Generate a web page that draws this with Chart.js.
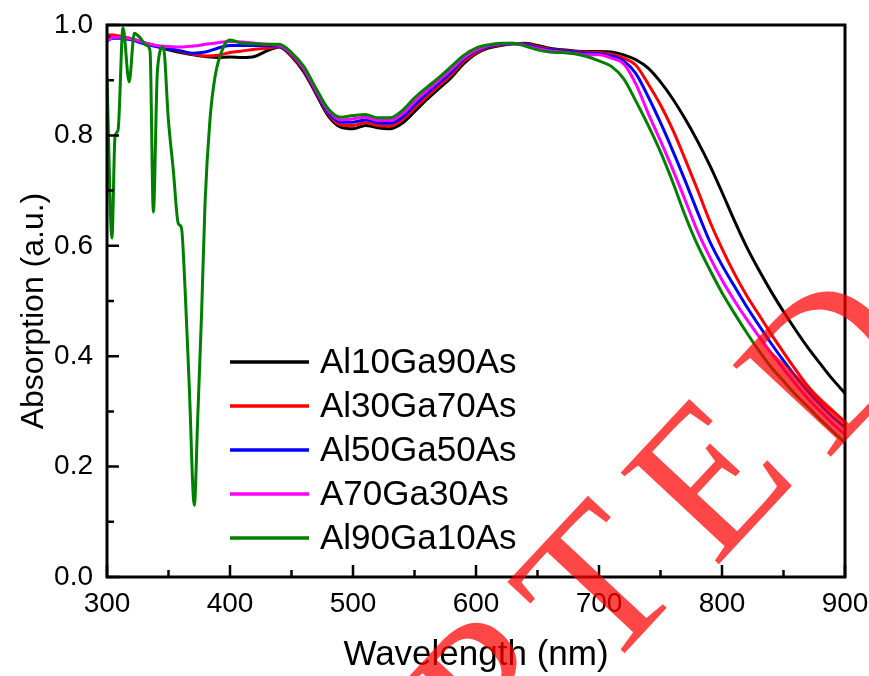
<!DOCTYPE html>
<html><head><meta charset="utf-8">
<script src="https://cdn.jsdelivr.net/npm/chart.js@4.4.1/dist/chart.umd.min.js"></script>
<style>html,body{margin:0;padding:0;background:#fff;overflow:hidden}#wrap{width:869px;height:676px;position:relative}</style>
</head><body><div id="wrap"><canvas id="c" width="869" height="676"></canvas></div>
<script>
// ---------- data ----------
const wavelength = [300,305,310,320,330,340,350,360,370,380,390,400,410,420,430,440,
  450,460,470,480,490,500,510,520,530,540,550,560,570,580,590,600,610,620,630,640,650,660,670,680,690,700,
  710,720,730,740,750,760,770,780,790,800,810,820,830,840,850,860,870,880,890,900];

const al10ga90 = [0.978,0.980,0.978,0.975,0.968,0.962,0.955,0.950,0.946,0.943,0.941,0.942,0.941,0.943,0.953,0.960,
  0.943,0.915,0.875,0.835,0.815,0.812,0.818,0.814,0.812,0.822,0.843,0.865,0.885,0.905,0.930,0.948,0.958,0.963,0.966,0.967,0.963,0.958,0.955,0.953,0.952,0.952,
  0.951,0.946,0.937,0.922,0.897,0.866,0.830,0.790,0.746,0.697,0.646,0.598,0.556,0.517,0.481,0.447,0.415,0.386,0.358,0.333];

const al30ga70 = [0.982,0.982,0.980,0.975,0.968,0.962,0.957,0.952,0.947,0.944,0.945,0.950,0.953,0.956,0.958,0.961,
  0.945,0.918,0.878,0.838,0.819,0.818,0.823,0.818,0.817,0.828,0.849,0.870,0.890,0.910,0.934,0.950,0.960,0.964,0.966,0.966,0.961,0.956,0.954,0.952,0.951,0.950,
  0.947,0.940,0.927,0.893,0.855,0.810,0.757,0.702,0.645,0.595,0.550,0.510,0.475,0.440,0.407,0.375,0.345,0.320,0.300,0.281];

const al50ga50 = [0.972,0.976,0.976,0.973,0.966,0.961,0.957,0.953,0.949,0.951,0.958,0.963,0.963,0.963,0.963,0.962,
  0.947,0.920,0.880,0.841,0.824,0.824,0.828,0.823,0.822,0.833,0.855,0.876,0.895,0.915,0.938,0.953,0.961,0.965,0.966,0.965,0.959,0.955,0.953,0.951,0.949,0.948,
  0.944,0.935,0.912,0.870,0.823,0.772,0.718,0.662,0.608,0.565,0.527,0.490,0.456,0.423,0.392,0.363,0.336,0.312,0.290,0.271];

const al70ga30 = [0.970,0.978,0.978,0.975,0.968,0.963,0.961,0.960,0.962,0.965,0.968,0.970,0.969,0.967,0.965,0.963,
  0.948,0.922,0.882,0.845,0.828,0.830,0.833,0.827,0.827,0.839,0.861,0.881,0.900,0.920,0.941,0.955,0.963,0.966,0.967,0.963,0.957,0.953,0.951,0.949,0.946,0.946,
  0.940,0.930,0.893,0.840,0.790,0.738,0.683,0.627,0.580,0.538,0.501,0.467,0.436,0.406,0.377,0.349,0.323,0.300,0.278,0.258];

const wavelengthAl90 = [300,304,306.5,309,313,318,322.2,326.8,332.2,335,337.7,341,345.8,349.9,353.9,358,360.5,363.4,366.9,371,373.7,377,379.7,383.7,387.8,394.6,400,410,420,430,440,
  450,460,470,480,490,500,510,520,530,540,550,560,570,580,590,600,610,620,630,640,650,660,670,680,690,700,
  710,720,730,740,750,760,770,780,790,800,810,820,830,840,850,860,870,880,890,900];

const al90ga10 = [0.905,0.614,0.797,0.810,0.995,0.897,0.985,0.977,0.963,0.953,0.661,0.918,0.960,0.828,0.737,0.640,0.633,0.525,0.344,0.130,0.285,0.484,0.677,0.828,0.906,0.960,0.973,0.967,0.966,0.965,0.965,
  0.950,0.925,0.885,0.848,0.833,0.836,0.838,0.832,0.832,0.845,0.868,0.887,0.905,0.925,0.945,0.958,0.964,0.967,0.967,0.962,0.955,0.951,0.950,0.948,0.943,0.935,
  0.925,0.903,0.862,0.818,0.770,0.715,0.655,0.602,0.557,0.515,0.478,0.443,0.410,0.380,0.355,0.330,0.308,0.285,0.264,0.243];

const seriesNames = ['Al10Ga90As','Al30Ga70As','Al50Ga50As','A70Ga30As','Al90Ga10As'];
const seriesColors = ['#000000','#ff0000','#0000ff','#ff00ff','#008000'];
const xMajorTicks = [300,400,500,600,700,800,900];
const xMinorTicks = [350,450,550,650,750,850];
const yMajorTicks = [0,0.2,0.4,0.6,0.8,1.0];
const yMinorTicks = [0.1,0.3,0.5,0.7,0.9];
const xTitle = 'Wavelength (nm)';
const yTitle = 'Absorption (a.u.)';
const watermark = 'ACCEPTED';

// ---------- build ----------
const pts = (xs, ys) => xs.map((x, i) => ({x, y: ys[i]}));
const seriesData = [
  pts(wavelength, al10ga90), pts(wavelength, al30ga70), pts(wavelength, al50ga50),
  pts(wavelength, al70ga30), pts(wavelengthAl90, al90ga10)
];
const datasets = seriesData.map((d, i) => ({
  label: seriesNames[i], data: d, borderColor: seriesColors[i], backgroundColor: seriesColors[i],
  borderWidth: 3, pointRadius: 0, fill: false, cubicInterpolationMode: 'monotone',
  order: 4 - i
}));

const FONT = 'Liberation Sans, Arial, sans-serif';

const decor = {
  id: 'decor',
  afterDatasetsDraw(chart) {
    const {ctx, chartArea: a, scales: {x, y}} = chart;
    ctx.save();
    ctx.strokeStyle = '#000'; ctx.lineWidth = 2.5; ctx.lineCap = 'butt';
    ctx.beginPath();
    xMajorTicks.forEach(v => { const p = x.getPixelForValue(v); ctx.moveTo(p, a.bottom); ctx.lineTo(p, a.bottom - 12); });
    xMinorTicks.forEach(v => { const p = x.getPixelForValue(v); ctx.moveTo(p, a.bottom); ctx.lineTo(p, a.bottom - 7); });
    yMajorTicks.forEach(v => { const p = y.getPixelForValue(v); ctx.moveTo(a.left, p); ctx.lineTo(a.left + 12, p); });
    yMinorTicks.forEach(v => { const p = y.getPixelForValue(v); ctx.moveTo(a.left, p); ctx.lineTo(a.left + 7, p); });
    ctx.stroke();
    ctx.lineWidth = 3;
    ctx.strokeRect(a.left, a.top, a.right - a.left, a.bottom - a.top);
    // axis titles
    ctx.fillStyle = '#000'; ctx.textAlign = 'center'; ctx.textBaseline = 'middle';
    ctx.font = '35px ' + FONT;
    ctx.fillText(xTitle, (a.left + a.right) / 2, 655);
    ctx.save();
    ctx.translate(34, (a.top + a.bottom) / 2 + 10);
    ctx.rotate(-Math.PI / 2);
    ctx.font = '32px ' + FONT;
    ctx.fillText(yTitle, 0, 0);
    ctx.restore();
    // legend
    ctx.font = '35px ' + FONT; ctx.textBaseline = 'middle'; ctx.textAlign = 'left';
    chart.data.datasets.forEach((ds, i) => {
      const yy = a.top + 337 + i * 44;
      ctx.strokeStyle = ds.borderColor; ctx.lineWidth = 3.5;
      ctx.beginPath(); ctx.moveTo(a.left + 123, yy); ctx.lineTo(a.left + 202, yy); ctx.stroke();
      ctx.fillText(ds.label, a.left + 213, yy + 1);
    });
    ctx.restore();
  },
  afterDraw(chart) {
    const {ctx} = chart;
    ctx.save();
    ctx.fillStyle = 'rgba(255,0,0,0.72)';
    ctx.font = '205px Liberation Serif, Times New Roman, serif';
    ctx.textAlign = 'center'; ctx.textBaseline = 'middle';
    const rot = -47 * Math.PI / 180, dirA = -44 * Math.PI / 180, extra = 30;
    const dx = Math.cos(dirA), dy = Math.sin(dirA);
    const w = [...watermark].map(c => ctx.measureText(c).width);
    const anchor = 6; // second "E"
    const offs = new Array(watermark.length).fill(0);
    for (let i = anchor + 1; i < watermark.length; i++) offs[i] = offs[i - 1] + (w[i - 1] + w[i]) / 2 + extra;
    for (let i = anchor - 1; i >= 0; i--) offs[i] = offs[i + 1] - (w[i + 1] + w[i]) / 2 - extra;
    const cx = 718, cy = 486;
    for (let i = 0; i < watermark.length; i++) {
      ctx.save();
      ctx.translate(cx + offs[i] * dx, cy + offs[i] * dy);
      ctx.rotate(rot);
      ctx.fillText(watermark[i], 0, 0);
      ctx.restore();
    }
    ctx.restore();
  }
};

const noPad = s => { s.paddingLeft = 0; s.paddingRight = 0; s.paddingTop = 0; s.paddingBottom = 0; };

new Chart(document.getElementById('c'), {
  type: 'line',
  data: {datasets},
  options: {
    responsive: false, animation: false, devicePixelRatio: 1,
    layout: {padding: {top: 25, right: 24, left: 0, bottom: 0}},
    plugins: {legend: {display: false}, tooltip: {enabled: false}},
    scales: {
      x: {
        type: 'linear', min: 300, max: 900,
        afterBuildTicks(s) { s.ticks = xMajorTicks.map(v => ({value: v})); },
        ticks: {font: {family: FONT, size: 28}, color: '#000', padding: 10, maxRotation: 0, autoSkip: false},
        grid: {display: false, drawTicks: false}, border: {display: false},
        title: {display: false, text: xTitle},
        afterFit(s) { s.height = 99; noPad(s); }
      },
      y: {
        type: 'linear', min: 0, max: 1,
        afterBuildTicks(s) { s.ticks = yMajorTicks.map(v => ({value: v})); },
        ticks: {font: {family: FONT, size: 28}, color: '#000', padding: 14, callback: v => v.toFixed(1), autoSkip: false},
        grid: {display: false, drawTicks: false}, border: {display: false},
        title: {display: false, text: yTitle},
        afterFit(s) { s.width = 107; noPad(s); }
      }
    }
  },
  plugins: [decor]
});
</script></body></html>
